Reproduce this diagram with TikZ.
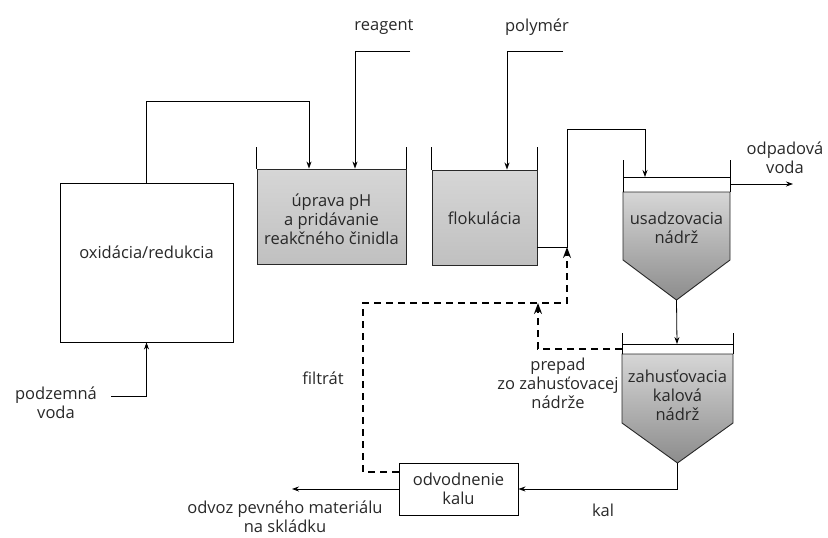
\documentclass[tikz,border=0pt]{standalone}
\usepackage{fontspec}
\setmainfont{Open Sans}
\usetikzlibrary{arrows.meta,positioning,calc}
\definecolor{tanklight}{RGB}{214,214,214}
\definecolor{tankmid}{RGB}{192,192,192}
\definecolor{tankdark}{RGB}{140,140,140}
\definecolor{inkgrey}{RGB}{40,40,40}

\begin{document}
\begin{tikzpicture}[x=1pt, y=-1pt,
    flow/.style={line width=0.8pt, -{Stealth[length=7pt,width=5pt]}},
    recycle/.style={line width=1.5pt, dash pattern=on 7pt off 5pt,
        -{Stealth[length=11pt,width=8pt]}},
    plainbox/.style={draw, line width=0.9pt, inner sep=0pt, fill=white},
    tankbox/.style={draw=inkgrey, line width=0.9pt, inner sep=0pt,
        top color=tanklight, bottom color=tankmid},
    wall/.style={line width=0.9pt},
    lbl/.style={align=center, inner sep=1pt, text=inkgrey,
        font=\fontsize{16.5}{19}\selectfont}
]
\useasboundingbox (0,0) rectangle (828,538);

% oxidation / reduction unit
\node[plainbox, minimum width=173pt, minimum height=159pt] (ox) at (146.5,262.5) {};
\node[lbl] (oxtext) at (146.5,252) {oxidácia/redukcia};
\node[lbl] (gw) at (56,403) {podzemná\\voda};
\draw[flow] ([xshift=13pt,yshift=7pt]gw.east) -| (ox.south);

% pH adjustment tank
\node[tankbox, minimum width=149pt, minimum height=95pt] (ph) at (331.5,216.5) {};
\node[lbl] (phtext) at (331.5,219) {úprava pH\\a pridávanie\\reakčného činidla};
\draw[wall] (ph.north west) -- ++(0,-22) (ph.north east) -- ++(0,-22);

% flocculation tank
\node[tankbox, minimum width=105pt, minimum height=95pt] (flok) at (484.5,217.5) {};
\node[lbl] (floktext) at (484.5,218) {flokulácia};
\draw[wall] (flok.north west) -- ++(0,-23) (flok.north east) -- ++(0,-23);

% dosing lines
\node[lbl] (reag) at (384,27) {reagent};
\node[lbl] (poly) at (537,27) {polymér};
\coordinate (reagin) at (410,51);
\coordinate (polyin) at (563,51);
\draw[flow] (ox.north) -- ++(0,-81) -| ([xshift=-22.5pt]ph.north);
\draw[flow] (reagin) -| ([xshift=23.5pt]ph.north);
\draw[flow] (polyin) -| ([xshift=22.5pt]flok.north);

% settling tank
\shade[draw=inkgrey, line width=0.9pt, top color=tanklight, bottom color=tankdark]
    (623,192) -- (730,192) -- (730,260) -- (676.5,300) -- (623,260) -- cycle;
\draw[wall] (623,160) -- (623,192) (730,160) -- (730,192) (623,177) -- (730,177);
\node[lbl] (sett) at (676.5,228) {usadzovacia\\nádrž};
\coordinate (settin) at (645,177);
\coordinate (settout) at (730,184);
\coordinate (setttip) at (676.5,300);
\node[lbl] (eff) at (785,158) {odpadová\\voda};
\coordinate (effend) at (793,184);
\draw[flow] (settout) -- (effend);

% sludge thickener
\shade[draw=inkgrey, line width=0.9pt, top color=tanklight, bottom color=tankdark]
    (622,354) -- (733,354) -- (733,423) -- (677.5,463) -- (622,423) -- cycle;
\draw[wall] (622,333) -- (622,354) (733,333) -- (733,354) (622,344) -- (733,344);
\node[lbl] (thk) at (677.5,395) {zahusťovacia\\kalová\\nádrž};
\coordinate (thkin) at (677,344);
\coordinate (thkover) at (622,349);
\coordinate (thktip) at (677.5,463);
\draw[flow] (setttip) -- (thkin);

% dewatering
\node[plainbox, minimum width=119pt, minimum height=52pt] (dew) at (458.5,489) {};
\node[lbl] (dewtext) at (458.5,489) {odvodnenie\\kalu};
\draw[flow] (thktip) |- (dew.east);
\node[lbl] (kal) at (603,510) {kal};
\coordinate (dispend) at (292,489);
\draw[flow] (dew.west) -- (dispend);
\node[lbl, inner sep=0pt] (disp) at (285,517) {odvoz pevného materiálu\\na skládku};

% mixing point and recycle streams
\coordinate (mix) at (567,247);
\coordinate (junc) at (538,303);
\draw[flow] ([yshift=-29.5pt]flok.east) -- (mix) -- (mix |- 0,129) -| (settin);
\draw[recycle] ([yshift=17pt]dew.west) -| (363,303) -| (mix);
\draw[recycle] (thkover) -| (junc);
\node[lbl] (filt) at (323,378) {filtrát};
\node[lbl] (ovf) at (558,383) {prepad\\zo zahusťovacej\\nádrže};
\end{tikzpicture}
\end{document}
